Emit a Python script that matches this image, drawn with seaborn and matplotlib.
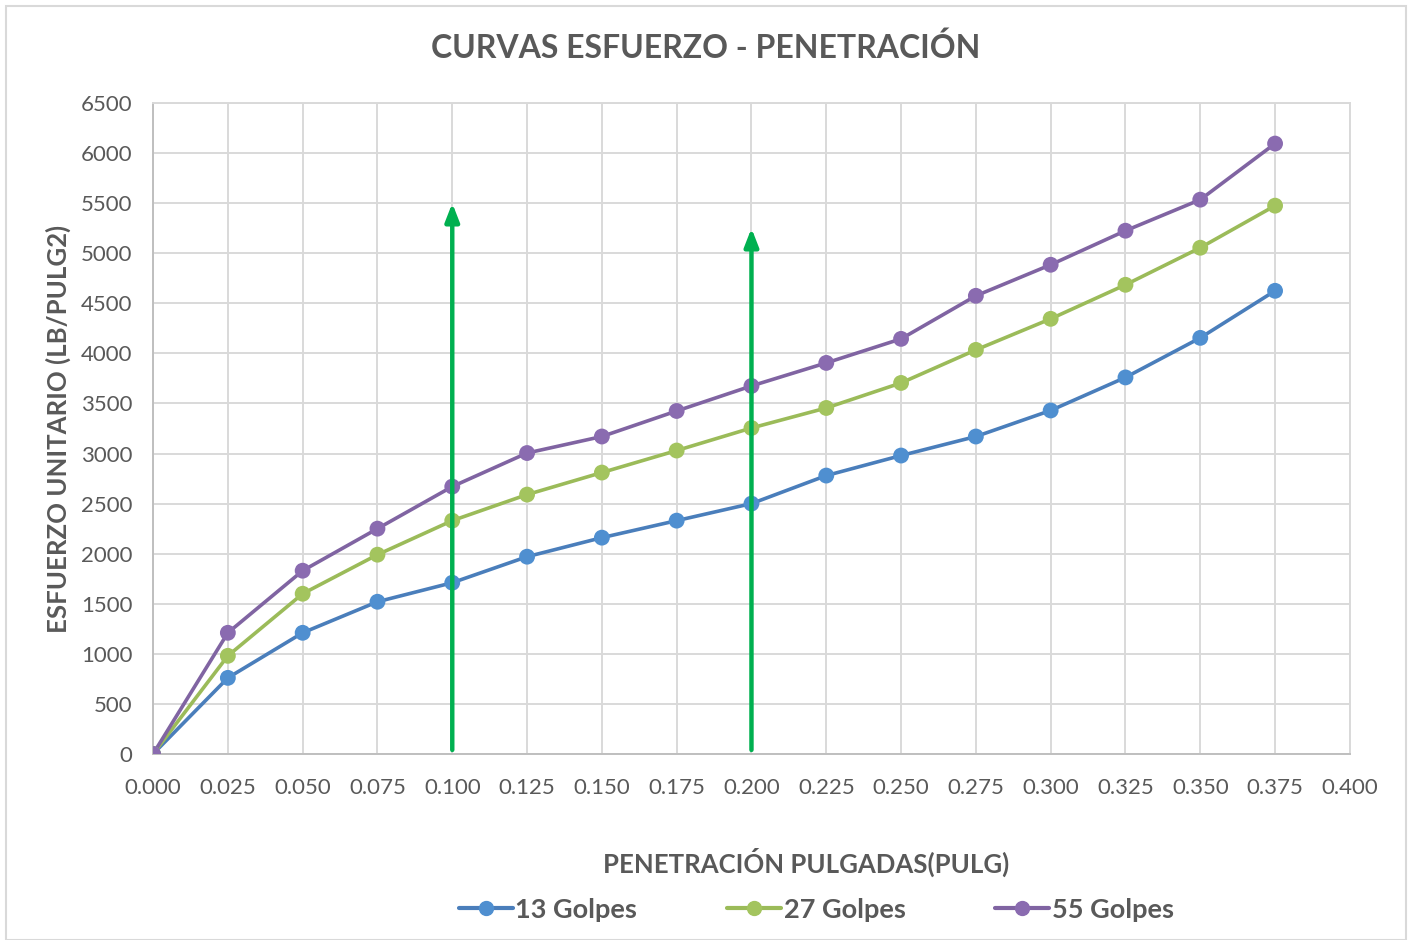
import matplotlib
matplotlib.use("Agg")
import matplotlib.pyplot as plt
import matplotlib.patches as mpatches
import pandas as pd
import seaborn as sns

# ── Data ──────────────────────────────────────────────────────
penetracion = [0.000, 0.025, 0.050, 0.075, 0.100, 0.125, 0.150, 0.175,
               0.200, 0.225, 0.250, 0.275, 0.300, 0.325, 0.350, 0.375]
golpes_13 = [0, 760, 1210, 1520, 1710, 1970, 2160, 2330,
             2500, 2780, 2980, 3170, 3430, 3760, 4155, 4625]
golpes_27 = [0, 980, 1600, 1990, 2330, 2590, 2810, 3030,
             3255, 3455, 3705, 4035, 4345, 4685, 5055, 5475]
golpes_55 = [0, 1210, 1830, 2250, 2670, 3005, 3170, 3425,
             3675, 3905, 4145, 4575, 4885, 5225, 5535, 6095]
series_names = ["13 Golpes", "27 Golpes", "55 Golpes"]
x_ticks = [i * 0.025 for i in range(17)]
y_ticks = list(range(0, 6501, 500))
arrow_x = [0.100, 0.200]
arrow_top = [5500, 5250]
arrow_base = 40

df = pd.DataFrame({
    "x": penetracion * 3,
    "y": golpes_13 + golpes_27 + golpes_55,
    "serie": sum([[n] * len(penetracion) for n in series_names], []),
})

line_colors = ["#4A7EBB", "#9BBB59", "#8064A2"]
marker_colors = ["#4F8FD0", "#A3C45E", "#8A6BB0"]
gray_text = "#595959"

sns.set_theme(style="white")
plt.rcParams["font.family"] = ["Lato", "DejaVu Sans"]

fig = plt.figure(figsize=(14.12, 9.4), dpi=100)
ax = fig.add_axes([0.1084, 0.1979, 0.8476, 0.6925])

# ── Lines ─────────────────────────────────────────────────────
sns.lineplot(data=df, x="x", y="y", hue="serie", palette=line_colors,
             linewidth=2.6, ax=ax, legend=False, sort=False)
for name, mc in zip(series_names, marker_colors):
    sub = df[df["serie"] == name]
    sns.scatterplot(data=sub, x="x", y="y", color=mc, s=130,
                    edgecolor="none", ax=ax, zorder=4, legend=False)

# ── Green arrows ──────────────────────────────────────────────
for xa, ya in zip(arrow_x, arrow_top):
    ax.annotate("", xy=(xa, ya), xytext=(xa, arrow_base),
                arrowprops=dict(arrowstyle="-|>,head_width=0.35,head_length=0.9",
                                color="#00B050", lw=3.2, shrinkA=0, shrinkB=0),
                zorder=5)

# ── Axes styling ──────────────────────────────────────────────
ax.set_xlim(0, 0.4)
ax.set_ylim(0, 6500)
ax.set_xticks(x_ticks)
ax.set_xticklabels([f"{v:.3f}" for v in x_ticks])
ax.set_yticks(y_ticks)
ax.grid(True, color="#D9D9D9", linewidth=1.4)
ax.set_axisbelow(True)
for side in ["top", "right"]:
    ax.spines[side].set_color("#D9D9D9")
    ax.spines[side].set_linewidth(1.4)
for side in ["left", "bottom"]:
    ax.spines[side].set_color("#BFBFBF")
    ax.spines[side].set_linewidth(1.4)
ax.tick_params(axis="both", labelsize=16, colors=gray_text, length=0)
ax.tick_params(axis="x", pad=17)
ax.tick_params(axis="y", pad=15)
ax.set_xlabel("")
ax.set_ylabel("ESFUERZO UNITARIO (LB/PULG2)", fontsize=18.5,
              fontweight="bold", color=gray_text, labelpad=7)

fig.text(0.5, 0.949, "CURVAS ESFUERZO - PENETRACIÓN", ha="center",
         va="center", fontsize=23, fontweight="bold", color=gray_text)
fig.text(0.571, 0.083, "PENETRACIÓN PULGADAS(PULG)", ha="center",
         va="center", fontsize=18.5, fontweight="bold", color=gray_text)

handles = [plt.Line2D([], [], color=lc, lw=3, marker="o", markersize=10,
                      markerfacecolor=mc, markeredgecolor=mc)
           for lc, mc in zip(line_colors, marker_colors)]
leg = fig.legend(handles, series_names, loc="center", ncol=3,
                 bbox_to_anchor=(0.578, 0.032), frameon=False,
                 handlelength=2.0, handletextpad=0.1, columnspacing=3.3,
                 prop={"size": 19.5, "weight": "bold"})
for t in leg.get_texts():
    t.set_color(gray_text)

# chart border
fig.patches.append(mpatches.Rectangle((0.004, 0.0), 0.992, 0.994,
                                      transform=fig.transFigure, fill=False,
                                      edgecolor="#D9D9D9", linewidth=1.5))

fig.savefig("out.png", dpi=100, facecolor="white")
